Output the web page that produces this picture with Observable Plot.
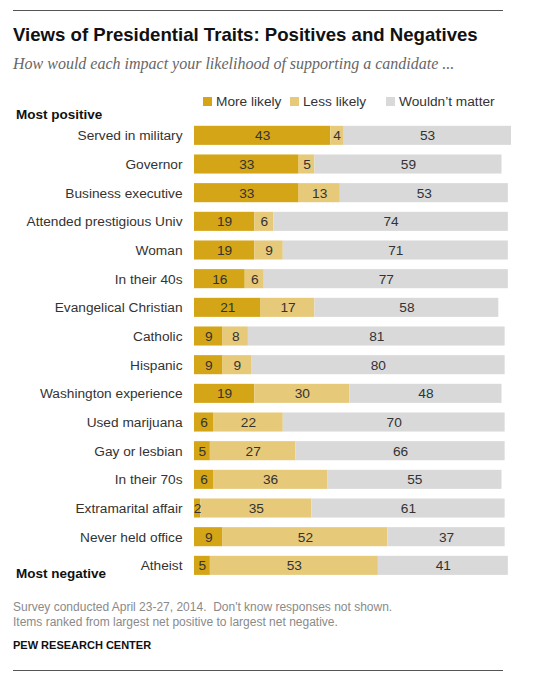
<!DOCTYPE html>
<html>
<head>
<meta charset="utf-8">
<script src="https://cdn.jsdelivr.net/npm/d3@7"></script>
<script src="https://cdn.jsdelivr.net/npm/@observablehq/plot@0.6"></script>
<style>
  html, body { margin: 0; padding: 0; background: #fff; }
  #root { position: relative; width: 535px; height: 683px; font-family: "Liberation Sans", Arial, sans-serif; color: #333; }
  .abs { position: absolute; white-space: nowrap; }
  .rule { position: absolute; left: 13px; width: 490px; height: 0; border-top: 1.5px solid #555; }
  #title { left: 13px; top: 24px; font-size: 18.6px; font-weight: bold; color: #111; }
  #subtitle { left: 13px; top: 55px; font-family: "Liberation Serif", serif; font-style: italic; font-size: 16px; color: #666; }
  .legend-item { position: absolute; top: 94px; font-size: 13.7px; color: #333; }
  .sw { display: inline-block; width: 9px; height: 9px; margin-right: 4px; vertical-align: 0px; }
  .end { font-size: 13.5px; font-weight: bold; color: #111; left: 16px; }
  .note { left: 13px; font-size: 12px; color: #8a8a8a; }
  #pew { left: 13px; top: 639px; font-size: 11px; font-weight: bold; color: #111; }
  #chart { position: absolute; left: 0; top: 121px; }
</style>
</head>
<body>
<div id="root">
  <div class="rule" style="top:10px"></div>
  <div id="title" class="abs">Views of Presidential Traits: Positives and Negatives</div>
  <div id="subtitle" class="abs">How would each impact your likelihood of supporting a candidate ...</div>
  <div id="legend"></div>
  <div class="abs end" style="top:107px">Most positive</div>
  <div class="abs end" style="top:566px">Most negative</div>
  <div id="chart"></div>
  <div class="abs note" style="top:600px">Survey conducted April 23-27, 2014.&nbsp; Don't know responses not shown.</div>
  <div class="abs note" style="top:615px">Items ranked from largest net positive to largest net negative.</div>
  <div id="pew" class="abs">PEW RESEARCH CENTER</div>
  <div class="rule" style="top:670px"></div>
</div>
<script>
const traits = ["Served in military","Governor","Business executive","Attended prestigious Univ","Woman","In their 40s","Evangelical Christian","Catholic","Hispanic","Washington experience","Used marijuana","Gay or lesbian","In their 70s","Extramarital affair","Never held office","Atheist"];
const moreLikely = [43,33,33,19,19,16,21,9,9,19,6,5,6,2,9,5];
const lessLikely = [4,5,13,6,9,6,17,8,9,30,22,27,36,35,52,53];
const wouldntMatter = [53,59,53,74,71,77,58,81,80,48,70,66,55,61,37,41];
const categories = ["More likely","Less likely","Wouldn't matter"];
const colors = ["#D4A516","#E7C97A","#D9D9D9"];
const legendX = [203, 290, 386];

const series = [moreLikely, lessLikely, wouldntMatter];
const data = [];
traits.forEach((t, i) => {
  categories.forEach((c, j) => data.push({trait: t, cat: c, value: series[j][i]}));
});

// legend
const leg = document.getElementById("legend");
categories.forEach((c, j) => {
  const d = document.createElement("div");
  d.className = "legend-item";
  d.style.left = legendX[j] + "px";
  d.innerHTML = `<span class="sw" style="background:${colors[j]}"></span>${c.replace("'", "&#8217;")}`;
  leg.appendChild(d);
});

const chart = Plot.plot({
  width: 535,
  height: 458.7,
  marginLeft: 194,
  marginRight: 24,
  marginTop: 0,
  marginBottom: 0,
  style: {fontFamily: "Liberation Sans, Arial, sans-serif", fontSize: "13.7px", color: "#333", background: "transparent"},
  x: {domain: [0, 100], axis: null},
  y: {domain: traits, padding: 0, round: false, label: null, axis: null},
  color: {domain: categories, range: colors},
  marks: [
    Plot.barX(data, Plot.stackX({x: "value", y: "trait", fill: "cat", z: "cat", order: categories, insetTop: 4.8, insetBottom: 4.8})),
    Plot.text(data, Plot.stackX({x: "value", y: "trait", z: "cat", order: categories, text: "value", fill: "#333", fontSize: 13.7})),
    Plot.axisY({tickSize: 0, tickPadding: 12, fontSize: 13.7, label: null})
  ]
});
document.getElementById("chart").appendChild(chart);
</script>
</body>
</html>
